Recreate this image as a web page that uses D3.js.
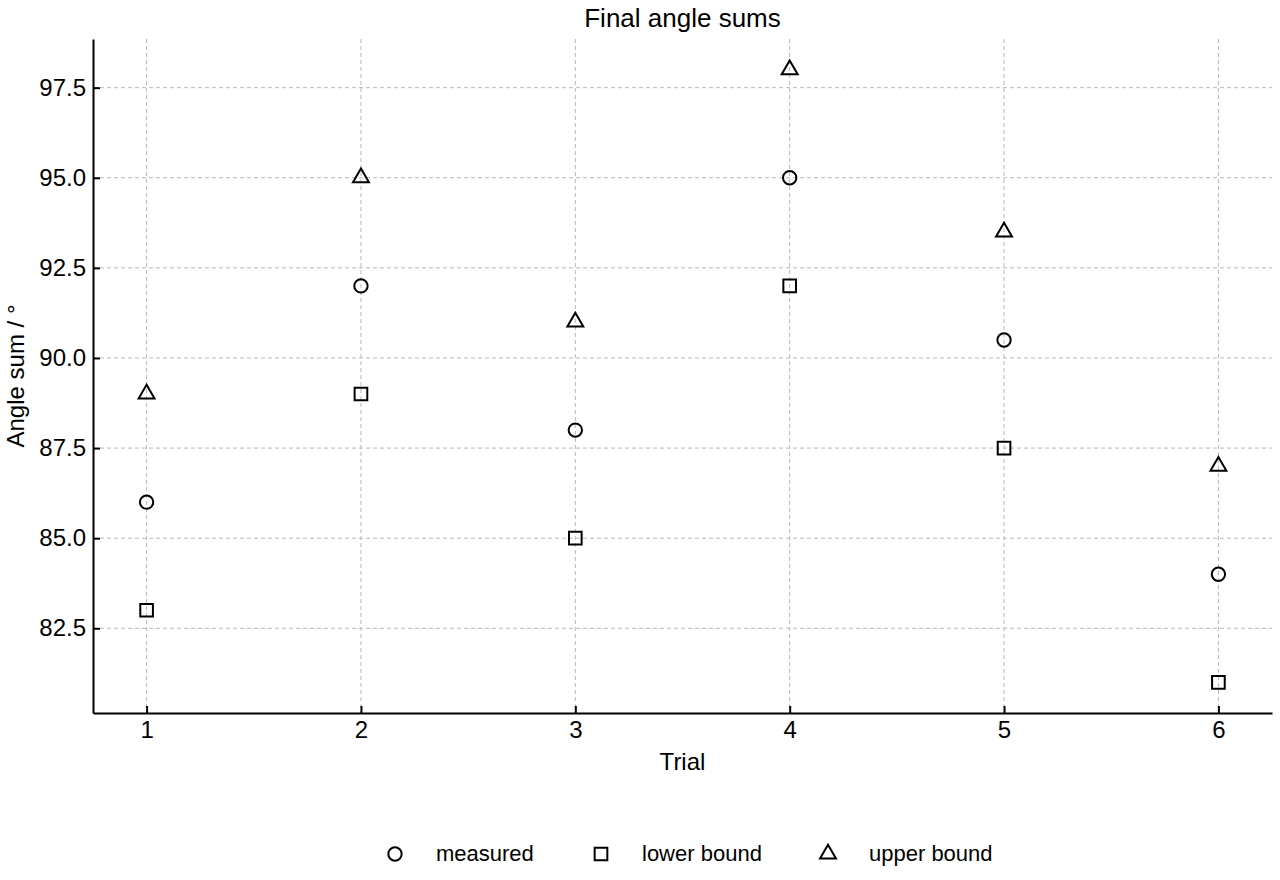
<!DOCTYPE html>
<html>
<head>
<meta charset="utf-8">
<script src="https://cdn.jsdelivr.net/npm/d3@7"></script>
<style>
  body { margin: 0; background: #fff; }
  svg { font-family: "Liberation Sans", Arial, sans-serif; }
  .grid line { stroke: #b8b8b8; stroke-dasharray: 4,3; stroke-width: 1; }
  .axis path, .axis line { stroke: #000; stroke-width: 2; }
  .axis text { font-size: 24px; fill: #000; font-family: "Liberation Sans", Arial, sans-serif; }
  .mark { fill: none; stroke: #000; stroke-width: 2; }
</style>
</head>
<body>
<svg id="chart" width="1280" height="880"></svg>
<script>
const trials   = [1, 2, 3, 4, 5, 6];
const measured = [86, 92, 88, 95, 90.5, 84];
const lower    = [83, 89, 85, 92, 87.5, 81];
const upper    = [89, 95, 91, 98, 93.5, 87];
const yTicks   = [82.5, 85, 87.5, 90, 92.5, 95, 97.5];

const series = [
  { name: 'measured',    values: measured, symbol: d3.symbolCircle,   size: 140, legendX: 395 },
  { name: 'lower bound', values: lower,    symbol: d3.symbolSquare,   size: 160, legendX: 601 },
  { name: 'upper bound', values: upper,    symbol: d3.symbolTriangle, size: 110, legendX: 828 }
];

const margin = { left: 93, right: 1272, top: 39, bottom: 713 };
const svg = d3.select('#chart');

const x = d3.scaleLinear().domain([0.75, 6.25]).range([margin.left, margin.right]);
const y = d3.scaleLinear().domain([80.15, 98.85]).range([margin.bottom, margin.top]);

// grid
const grid = svg.append('g').attr('class', 'grid');
grid.selectAll('.gx').data(trials).enter().append('line')
  .attr('x1', d => x(d)).attr('x2', d => x(d))
  .attr('y1', margin.top).attr('y2', margin.bottom);
grid.selectAll('.gy').data(yTicks).enter().append('line')
  .attr('x1', margin.left).attr('x2', margin.right)
  .attr('y1', d => y(d)).attr('y2', d => y(d));

// axes (inward ticks)
svg.append('g')
  .attr('class', 'axis')
  .attr('transform', `translate(0,${margin.bottom})`)
  .call(d3.axisBottom(x).tickValues(trials).tickSizeInner(-7).tickSizeOuter(0).tickPadding(8).tickFormat(d3.format('d')));

svg.append('g')
  .attr('class', 'axis')
  .attr('transform', `translate(${margin.left},0)`)
  .call(d3.axisLeft(y).tickValues(yTicks).tickSizeInner(-7).tickSizeOuter(0).tickPadding(7).tickFormat(d3.format('.1f')));

// markers
series.forEach(s => {
  svg.append('g').selectAll('path')
    .data(s.values.map((v, i) => [trials[i], v]))
    .enter().append('path')
      .attr('class', 'mark')
      .attr('transform', d => `translate(${x(d[0])},${y(d[1])})`)
      .attr('d', d3.symbol().type(s.symbol).size(s.size));
});

// title and labels
svg.append('text')
  .attr('x', (margin.left + margin.right) / 2).attr('y', 27)
  .attr('text-anchor', 'middle').attr('font-size', 26)
  .text('Final angle sums');

svg.append('text')
  .attr('x', (margin.left + margin.right) / 2).attr('y', 770)
  .attr('text-anchor', 'middle').attr('font-size', 24)
  .text('Trial');

svg.append('text')
  .attr('transform', `translate(24,${(margin.top + margin.bottom) / 2}) rotate(-90)`)
  .attr('text-anchor', 'middle').attr('font-size', 24)
  .text('Angle sum / °');

// legend
const legend = svg.append('g');
series.forEach(s => {
  legend.append('path')
    .attr('class', 'mark')
    .attr('transform', `translate(${s.legendX},854)`)
    .attr('d', d3.symbol().type(s.symbol).size(s.size));
  legend.append('text')
    .attr('x', s.legendX + 41).attr('y', 861)
    .attr('font-size', 22)
    .text(s.name);
});
</script>
</body>
</html>
